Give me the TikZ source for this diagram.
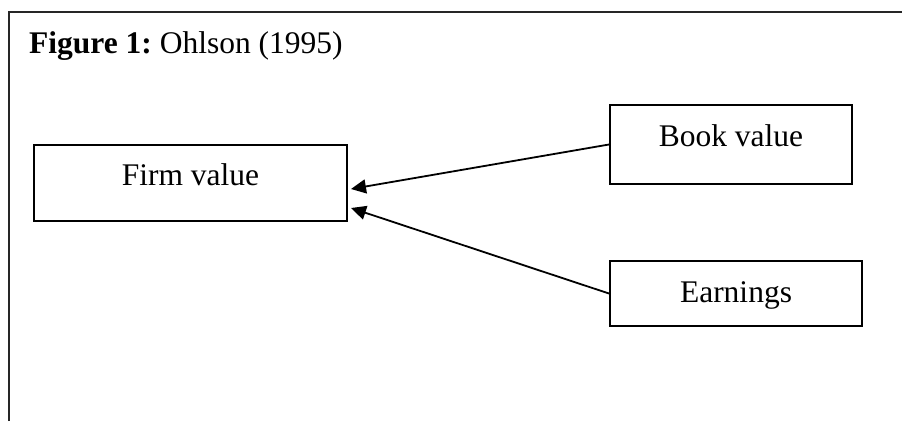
\documentclass[tikz,border=0pt]{standalone}
\usepackage{fontspec}
\setmainfont{Liberation Serif}
\usetikzlibrary{arrows.meta}
\begin{document}
\frenchspacing
\begin{tikzpicture}[x=1pt,y=-1pt,
  box/.style={draw,line width=2pt,inner xsep=0pt,inner ysep=0pt,font=\fontsize{31.5}{36}\selectfont},
  conn/.style={line width=1.8pt,-{Triangle[length=15pt,width=14pt]}}]
\useasboundingbox (0,0) rectangle (902,421);
\draw[line width=2pt,black!85] (9,421) -- (9,12) -- (902,12);
\node[anchor=base west,inner sep=0pt,font=\fontsize{31.5}{36}\selectfont] (title) at (29,53) {\textbf{Figure 1:}\ Ohlson (1995)};
\node[box,minimum width=313pt,text height=40pt,text depth=36pt] (firm) at (190.5,183) {Firm value};
\node[box,minimum width=242pt,text height=41pt,text depth=38pt] (book) at (731,144.5) {Book value};
\node[box,minimum width=252pt,text height=41pt,text depth=24pt] (earn) at (736,293.5) {Earnings};
\coordinate (t1) at (351,189);
\coordinate (t2) at (351,208);
\draw[conn] (book.west) -- (t1);
\draw[conn] (earn.west) -- (t2);
\end{tikzpicture}
\end{document}
